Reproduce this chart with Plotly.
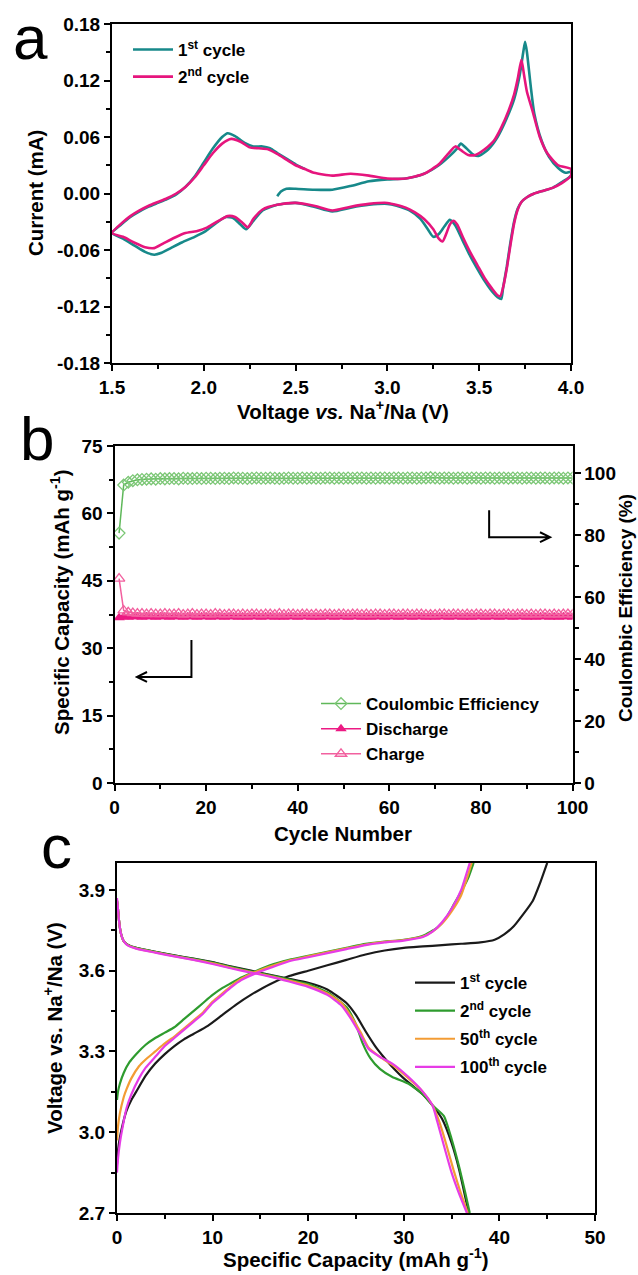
import plotly.graph_objects as go

W, H = 638, 1275
FONT = "Liberation Sans, Arial, Helvetica, sans-serif"


def px(x):
    return x / W


def py(y):
    return 1 - y / H


# ---------------- panel a : cyclic voltammetry ----------------
CV1_OX_START_V = [2.40, 2.42, 2.45, 2.50, 2.60, 2.70, 2.80, 2.90, 3.00, 3.10,
                  3.20, 3.28, 3.34, 3.38, 3.40, 3.43, 3.47, 3.50, 3.55, 3.60,
                  3.65, 3.69, 3.72, 3.74, 3.75, 3.76, 3.78, 3.80, 3.84, 3.88,
                  3.93, 3.97, 4.00]
CV1_OX_START_I = [-0.003, 0.002, 0.005, 0.005, 0.004, 0.004, 0.008, 0.013, 0.015, 0.016,
                  0.021, 0.030, 0.040, 0.048, 0.053, 0.048, 0.041, 0.040, 0.047, 0.060,
                  0.080, 0.100, 0.125, 0.150, 0.161, 0.150, 0.115, 0.085, 0.056, 0.039,
                  0.027, 0.022, 0.023]
CV1_RED_V = [4.00, 3.95, 3.90, 3.85, 3.80, 3.76, 3.73, 3.71, 3.69, 3.67, 3.65,
             3.63, 3.62, 3.60, 3.57, 3.53, 3.49, 3.45, 3.41, 3.37, 3.34,
             3.31, 3.28, 3.25, 3.22, 3.18, 3.12, 3.05, 3.00, 2.90, 2.80,
             2.70, 2.60, 2.50, 2.40, 2.32, 2.27, 2.23, 2.20, 2.16, 2.12,
             2.07, 2.01, 1.95, 1.88, 1.82, 1.77, 1.73, 1.68, 1.62, 1.56,
             1.50]
CV1_RED_I = [0.019, 0.012, 0.006, 0.003, 0.000, -0.004, -0.009, -0.016, -0.030, -0.052, -0.078,
             -0.100, -0.112, -0.110, -0.104, -0.093, -0.080, -0.066, -0.050, -0.034, -0.028,
             -0.035, -0.043, -0.046, -0.038, -0.027, -0.018, -0.013, -0.011, -0.012, -0.015,
             -0.019, -0.014, -0.010, -0.012, -0.018, -0.029, -0.038, -0.033, -0.026, -0.025,
             -0.031, -0.040, -0.046, -0.052, -0.058, -0.063, -0.065, -0.062, -0.055, -0.048,
             -0.042]
CV1_OX_END_V = [1.55, 1.60, 1.65, 1.70, 1.75, 1.80, 1.85, 1.90, 1.95, 2.00, 2.05,
                2.10, 2.13, 2.17, 2.22, 2.27, 2.32, 2.36, 2.40, 2.45, 2.50, 2.55]
CV1_OX_END_I = [-0.033, -0.025, -0.019, -0.014, -0.010, -0.006, -0.001, 0.007, 0.018, 0.033, 0.048,
                0.060, 0.064, 0.061, 0.054, 0.050, 0.050, 0.048, 0.043, 0.037, 0.031, 0.026]

CV2_OX_V = [1.50, 1.55, 1.60, 1.65, 1.70, 1.75, 1.80, 1.85, 1.90, 1.95,
            2.00, 2.05, 2.10, 2.15, 2.20, 2.25, 2.30, 2.35, 2.40, 2.45,
            2.50, 2.55, 2.60, 2.70, 2.80, 2.90, 3.00, 3.10, 3.20, 3.28,
            3.33, 3.37, 3.40, 3.44, 3.48, 3.53, 3.58, 3.62, 3.66, 3.69,
            3.71, 3.73, 3.745, 3.76, 3.79, 3.83, 3.87, 3.93, 4.00]
CV2_OX_I = [-0.042, -0.032, -0.024, -0.018, -0.013, -0.009, -0.005, 0.000, 0.007, 0.017,
            0.030, 0.043, 0.053, 0.058, 0.055, 0.049, 0.048, 0.047, 0.042, 0.036,
            0.030, 0.026, 0.022, 0.019, 0.021, 0.019, 0.016, 0.016, 0.021, 0.031,
            0.042, 0.050, 0.046, 0.041, 0.041, 0.047, 0.056, 0.070, 0.088, 0.105,
            0.122, 0.142, 0.125, 0.108, 0.088, 0.060, 0.043, 0.030, 0.026]
CV2_RED_V = [4.00, 3.95, 3.90, 3.85, 3.80, 3.76, 3.73, 3.71, 3.69, 3.67, 3.65,
             3.63, 3.615, 3.60, 3.57, 3.53, 3.49, 3.45, 3.41, 3.38, 3.36,
             3.34, 3.32, 3.30, 3.28, 3.25, 3.20, 3.15, 3.10, 3.00, 2.90,
             2.80, 2.70, 2.60, 2.50, 2.40, 2.32, 2.27, 2.24, 2.21, 2.17,
             2.13, 2.08, 2.02, 1.96, 1.90, 1.84, 1.78, 1.73, 1.68, 1.62,
             1.56, 1.50]
CV2_RED_I = [0.019, 0.011, 0.006, 0.003, 0.000, -0.004, -0.009, -0.017, -0.032, -0.055, -0.080,
             -0.100, -0.109, -0.108, -0.101, -0.090, -0.076, -0.062, -0.046, -0.033, -0.029,
             -0.033, -0.043, -0.051, -0.048, -0.038, -0.027, -0.020, -0.015, -0.010, -0.011,
             -0.014, -0.018, -0.013, -0.010, -0.012, -0.017, -0.027, -0.036, -0.031, -0.025,
             -0.024, -0.029, -0.036, -0.040, -0.042, -0.047, -0.053, -0.058, -0.057, -0.052,
             -0.046, -0.042]

A_YTICKS = [-0.18, -0.12, -0.06, 0.00, 0.06, 0.12, 0.18]
A_YTICKTEXT = ["-0.18", "-0.12", "-0.06", "0.00", "0.06", "0.12", "0.18"]

# ---------------- panel b : cycling ----------------
CYCLES = list(range(1, 101))
CE = [80.6, 96.1, 97.0, 97.5, 97.8, 97.9, 98.0, 98.1, 98.0, 98.2,
      98.1, 98.2, 98.2, 98.1, 98.3, 98.2, 98.2, 98.3, 98.2, 98.3,
      98.3, 98.2, 98.3, 98.3, 98.2, 98.4, 98.3, 98.3, 98.2, 98.3,
      98.4, 98.3, 98.3, 98.4, 98.3, 98.2, 98.3, 98.4, 98.3, 98.3,
      98.4, 98.3, 98.4, 98.3, 98.3, 98.4, 98.4, 98.3, 98.4, 98.3,
      98.4, 98.3, 98.4, 98.4, 98.3, 98.4, 98.3, 98.4, 98.4, 98.3,
      98.4, 98.4, 98.3, 98.4, 98.4, 98.3, 98.4, 98.4, 98.5, 98.4,
      98.3, 98.4, 98.4, 98.3, 98.4, 98.4, 98.3, 98.4, 98.4, 98.3,
      98.4, 98.4, 98.3, 98.4, 98.4, 98.3, 98.4, 98.4, 98.3, 98.4,
      98.4, 98.3, 98.4, 98.4, 98.3, 98.4, 98.4, 98.3, 98.4, 98.4]
DISCHARGE = [36.8, 37.0, 36.9, 37.0, 37.0, 36.9, 37.0, 37.0, 36.9, 37.0,
             37.0, 36.9, 37.0, 37.0, 36.9, 37.0, 37.0, 36.9, 37.0, 37.0,
             36.9, 37.0, 37.0, 36.9, 37.0, 37.0, 36.9, 37.0, 36.9, 37.0,
             37.0, 36.9, 37.0, 37.0, 36.9, 37.0, 36.9, 37.0, 37.0, 36.9,
             37.0, 37.0, 36.9, 37.0, 36.9, 37.0, 37.0, 36.9, 37.0, 37.0,
             36.9, 37.0, 37.0, 36.9, 37.0, 36.9, 37.0, 37.0, 36.9, 37.0,
             37.0, 36.9, 37.0, 37.0, 36.9, 37.0, 37.0, 36.9, 37.0, 36.9,
             37.0, 37.0, 36.9, 37.0, 37.0, 36.9, 37.0, 36.9, 37.0, 37.0,
             36.9, 37.0, 37.0, 36.9, 37.0, 37.0, 36.9, 37.0, 37.0, 36.9,
             37.0, 36.9, 37.0, 37.0, 36.9, 37.0, 36.9, 37.0, 37.0, 36.9]
CHARGE = [45.5, 38.4, 38.0, 37.8, 37.7, 37.7, 37.6, 37.7, 37.6, 37.6,
          37.7, 37.6, 37.6, 37.7, 37.5, 37.6, 37.7, 37.5, 37.6, 37.6,
          37.5, 37.7, 37.6, 37.5, 37.6, 37.6, 37.5, 37.6, 37.5, 37.6,
          37.6, 37.5, 37.6, 37.6, 37.5, 37.7, 37.5, 37.6, 37.6, 37.5,
          37.6, 37.6, 37.5, 37.6, 37.5, 37.6, 37.6, 37.5, 37.6, 37.6,
          37.5, 37.6, 37.6, 37.5, 37.6, 37.5, 37.6, 37.6, 37.5, 37.6,
          37.6, 37.5, 37.6, 37.6, 37.5, 37.6, 37.6, 37.5, 37.5, 37.5,
          37.6, 37.6, 37.5, 37.6, 37.6, 37.5, 37.6, 37.5, 37.6, 37.6,
          37.5, 37.6, 37.6, 37.5, 37.6, 37.6, 37.5, 37.6, 37.6, 37.5,
          37.6, 37.5, 37.6, 37.6, 37.5, 37.6, 37.5, 37.6, 37.6, 37.5]

# ---------------- panel c : charge/discharge profiles ----------------
C1_CH_CAP = [0, 0.1, 0.3, 0.6, 1.0, 1.5, 2.0, 3.0, 4.0, 5.0, 6.0, 7.0, 8.0, 9.5, 11.0, 12.5,
             14.0, 16.0, 18.0, 20.0, 22.0, 24.0, 26.0, 28.0, 30.0, 32.0, 34.0, 36.0, 38.0,
             39.5, 40.5, 41.5, 42.5, 43.5, 44.3, 45.0]
C1_CH_V = [2.88, 2.93, 2.98, 3.03, 3.08, 3.12, 3.15, 3.21, 3.255, 3.29, 3.32, 3.345, 3.365, 3.395,
           3.435, 3.475, 3.51, 3.55, 3.58, 3.60, 3.62, 3.64, 3.66, 3.675, 3.685, 3.69, 3.695,
           3.70, 3.705, 3.715, 3.735, 3.765, 3.81, 3.86, 3.93, 4.00]
C1_DIS_CAP = [0, 0.1, 0.2, 0.4, 0.7, 1.2, 2.0, 4.0, 6.0, 8.0, 10.0, 12.0, 14.0, 16.0, 18.0, 20.0,
              22.0, 24.0, 25.0, 26.0, 27.0, 28.0, 29.0, 30.0, 31.0, 32.0, 33.0, 34.0, 35.0, 35.8,
              36.3, 36.8]
C1_DIS_V = [3.86, 3.83, 3.79, 3.74, 3.71, 3.695, 3.685, 3.67, 3.657, 3.645, 3.632, 3.615, 3.60,
            3.585, 3.57, 3.555, 3.53, 3.48, 3.435, 3.375, 3.32, 3.275, 3.235, 3.20, 3.17, 3.14,
            3.10, 3.05, 2.96, 2.86, 2.78, 2.70]

C2_CH_CAP = [0, 0.1, 0.3, 0.7, 1.3, 2.0, 3.0, 4.0, 5.0, 6.0, 7.0, 8.0, 9.0, 10.0, 11.0, 12.0, 13.0,
             14.3, 16.0, 18.0, 20.0, 22.0, 24.0, 26.0, 28.0, 30.0, 32.0, 33.5, 34.5, 35.3, 36.1,
             36.8, 37.3]
C2_CH_V = [3.12, 3.15, 3.18, 3.22, 3.26, 3.29, 3.325, 3.35, 3.37, 3.39, 3.42, 3.45, 3.48, 3.51,
           3.535, 3.555, 3.575, 3.595, 3.62, 3.64, 3.655, 3.67, 3.685, 3.70, 3.708, 3.715, 3.73,
           3.76, 3.80, 3.85, 3.90, 3.95, 4.00]
C2_DIS_CAP = [0, 0.1, 0.2, 0.4, 0.7, 1.2, 2.0, 4.0, 6.0, 8.0, 10.0, 12.0, 14.0, 16.0, 18.0, 20.0,
              22.0, 24.0, 25.0, 25.7, 26.5, 27.5, 28.8, 30.5, 32.0, 33.0, 34.2, 35.0, 35.8, 36.4,
              36.9]
C2_DIS_V = [3.86, 3.83, 3.79, 3.74, 3.71, 3.695, 3.685, 3.67, 3.656, 3.644, 3.63, 3.613, 3.598,
            3.583, 3.567, 3.55, 3.52, 3.465, 3.40, 3.33, 3.275, 3.235, 3.205, 3.18, 3.14, 3.10,
            3.06, 2.975, 2.87, 2.78, 2.70]

C50_CH_CAP = [0, 0.1, 0.3, 0.7, 1.0, 1.5, 2.3, 3.0, 4.0, 5.0, 6.0, 7.0, 8.0, 9.0, 10.0, 11.0,
              12.0, 13.0, 14.5, 16.0, 18.0, 20.0, 22.0, 24.0, 26.0, 28.0, 30.0, 32.0, 33.0, 34.0,
              35.0, 36.0, 37.1]
C50_CH_V = [2.97, 3.02, 3.07, 3.13, 3.16, 3.20, 3.245, 3.27, 3.30, 3.33, 3.355, 3.385, 3.415,
            3.445, 3.485, 3.515, 3.545, 3.57, 3.595, 3.615, 3.638, 3.653, 3.668, 3.683, 3.697,
            3.707, 3.714, 3.727, 3.745, 3.775, 3.82, 3.88, 4.00]
C50_DIS_CAP = [0, 0.1, 0.2, 0.4, 0.7, 1.2, 2.0, 4.0, 6.0, 8.0, 10.0, 12.0, 14.0, 16.0, 18.0, 20.0,
               22.0, 23.5, 24.5, 25.5, 26.3, 27.5, 28.8, 30.5, 32.0, 33.0, 33.7, 34.4, 35.2, 36.0,
               36.7]
C50_DIS_V = [3.86, 3.83, 3.79, 3.74, 3.71, 3.693, 3.683, 3.668, 3.654, 3.641, 3.627, 3.61, 3.595,
             3.58, 3.563, 3.545, 3.515, 3.48, 3.43, 3.37, 3.315, 3.28, 3.25, 3.20, 3.15, 3.10,
             3.04, 2.96, 2.86, 2.77, 2.70]

C100_CH_CAP = [0, 0.1, 0.3, 0.7, 1.0, 1.5, 2.3, 3.0, 4.0, 5.0, 6.0, 7.0, 8.0, 9.0, 10.0, 11.0,
               12.0, 13.0, 14.5, 16.0, 18.0, 20.0, 22.0, 24.0, 26.0, 28.0, 30.0, 32.0, 33.0, 34.0,
               35.0, 36.0, 36.9]
C100_CH_V = [2.85, 2.90, 2.96, 3.04, 3.09, 3.14, 3.20, 3.24, 3.28, 3.32, 3.35, 3.38, 3.41, 3.44,
             3.48, 3.51, 3.54, 3.565, 3.59, 3.61, 3.635, 3.65, 3.665, 3.68, 3.695, 3.705, 3.712,
             3.725, 3.745, 3.78, 3.83, 3.90, 4.00]
C100_DIS_CAP = [0, 0.1, 0.2, 0.4, 0.7, 1.2, 2.0, 4.0, 6.0, 8.0, 10.0, 12.0, 14.0, 16.0, 18.0, 20.0,
                22.0, 23.5, 24.5, 25.5, 26.3, 27.5, 28.8, 30.5, 32.0, 33.0, 33.5, 34.2, 35.0, 35.8,
                36.6]
C100_DIS_V = [3.87, 3.83, 3.79, 3.74, 3.71, 3.692, 3.682, 3.667, 3.653, 3.64, 3.625, 3.608, 3.593,
              3.578, 3.56, 3.54, 3.51, 3.47, 3.42, 3.36, 3.31, 3.28, 3.255, 3.205, 3.15, 3.10,
              3.04, 2.95, 2.85, 2.77, 2.70]

C_LABELS = ["1<sup>st</sup> cycle", "2<sup>nd</sup> cycle", "50<sup>th</sup> cycle", "100<sup>th</sup> cycle"]
C_COLORS = ["#1a1a1a", "#2e9b2e", "#f39c34", "#e63ce6"]

# ---------------- figure ----------------
fig = go.Figure()

TEAL = "#17898a"
PINK = "#e6157d"

fig.add_trace(go.Scatter(
    x=CV1_OX_START_V + CV1_RED_V + CV1_OX_END_V,
    y=CV1_OX_START_I + CV1_RED_I + CV1_OX_END_I,
    mode="lines", name="1<sup>st</sup> cycle", legendgroup="a1",
    line=dict(color=TEAL, width=2.6, shape="spline", smoothing=0.6),
    xaxis="x", yaxis="y", legend="legend"))
fig.add_trace(go.Scatter(
    x=CV2_OX_V + CV2_RED_V, y=CV2_OX_I + CV2_RED_I,
    mode="lines", name="2<sup>nd</sup> cycle", legendgroup="a2",
    line=dict(color=PINK, width=2.6, shape="spline", smoothing=0.6),
    xaxis="x", yaxis="y", legend="legend"))

# panel b
fig.add_trace(go.Scatter(
    x=CYCLES, y=CE, mode="lines+markers", name="Coulombic Efficiency", legendgroup="b1",
    line=dict(color="#5fb85a", width=1.5),
    marker=dict(symbol="diamond-open", size=9, color="#7cc776", line=dict(width=1.3)),
    xaxis="x2", yaxis="y3", legend="legend2"))
fig.add_trace(go.Scatter(
    x=CYCLES, y=DISCHARGE, mode="lines+markers", name="Discharge", legendgroup="b2",
    line=dict(color="#ec1a83", width=1.5),
    marker=dict(symbol="triangle-up", size=10, color="#ec1a83"),
    xaxis="x2", yaxis="y2", legend="legend2"))
fig.add_trace(go.Scatter(
    x=CYCLES, y=CHARGE, mode="lines+markers", name="Charge", legendgroup="b3",
    line=dict(color="#f2609f", width=1.5),
    marker=dict(symbol="triangle-up-open", size=10, color="#f2609f", line=dict(width=1.3)),
    xaxis="x2", yaxis="y2", legend="legend2"))

# panel c
C_DATA = [(C1_CH_CAP, C1_CH_V, C1_DIS_CAP, C1_DIS_V),
          (C2_CH_CAP, C2_CH_V, C2_DIS_CAP, C2_DIS_V),
          (C50_CH_CAP, C50_CH_V, C50_DIS_CAP, C50_DIS_V),
          (C100_CH_CAP, C100_CH_V, C100_DIS_CAP, C100_DIS_V)]
for i, ((chc, chv, dc, dv), lab, col) in enumerate(zip(C_DATA, C_LABELS, C_COLORS)):
    fig.add_trace(go.Scatter(
        x=chc + [None] + dc, y=chv + [None] + dv, mode="lines", name=lab,
        legendgroup="c%d" % i,
        line=dict(color=col, width=2.2, shape="spline", smoothing=0.5),
        connectgaps=False, xaxis="x3", yaxis="y4", legend="legend3"))

TICKFONT = dict(family=FONT, size=19, color="black", weight="bold")


def ax(**kw):
    d = dict(showline=True, linecolor="black", linewidth=2, mirror=True,
             ticks="outside", ticklen=6, tickwidth=2, tickcolor="black",
             showgrid=False, zeroline=False, tickfont=TICKFONT, fixedrange=True,
             automargin=False)
    d.update(kw)
    return d


def minor(dt, t0=0):
    return dict(ticks="outside", ticklen=4, tickwidth=2, tickcolor="black",
                tickmode="linear", tick0=t0, dtick=dt, showgrid=False)


LEGFONT = dict(family=FONT, size=17, color="black", weight="bold")


def leg(x, y, gap):
    return dict(x=px(x), y=py(y), xanchor="left", yanchor="top", font=LEGFONT,
                bgcolor="rgba(0,0,0,0)", borderwidth=0, itemwidth=40,
                tracegroupgap=gap, itemclick=False, itemdoubleclick=False)


TITLEFONT = dict(family=FONT, size=20.5, color="black", weight="bold")
ann = []


def title(text, x, y, angle=0, size=20.5):
    ann.append(dict(text=text, x=px(x), y=py(y), xref="paper", yref="paper",
                    showarrow=False, textangle=angle, font=dict(TITLEFONT, size=size),
                    xanchor="center", yanchor="middle"))


title("Voltage <i>vs.</i> Na<sup>+</sup>/Na (V)", 343, 410)
title("Current (mA)", 35, 193, -90)
title("Cycle Number", 343, 833)
title("Specific Capacity (mAh g<sup>-1</sup>)", 60, 602, -90)
title("Coulombic Efficiency (%)", 626, 608, -90, 19)
title("Specific Capacity (mAh g<sup>-1</sup>)", 356, 1258)
title("Voltage vs. Na<sup>+</sup>/Na (V)", 53, 1028, -90)

for letter, x, y in [("a", 30, 38), ("b", 37, 438), ("c", 57, 846)]:
    ann.append(dict(text=letter, x=px(x), y=py(y), xref="paper", yref="paper",
                    showarrow=False, font=dict(family=FONT, size=62, color="black"),
                    xanchor="center", yanchor="middle"))

# arrows in panel b (data coordinates of x2 / y2)
ARW = dict(type="path", xref="x2", yref="y2", line=dict(color="black", width=2))
shapes = [
    dict(ARW, path="M 81.8 60.7 L 81.8 54.7 L 95.1 54.7 M 92.9 55.8 L 95.1 54.7 L 92.9 53.6"),
    dict(ARW, path="M 16.8 31.8 L 16.8 23.6 L 4.9 23.6 M 7.1 24.7 L 4.9 23.6 L 7.1 22.5"),
]

fig.update_layout(
    width=W, height=H, autosize=False,
    margin=dict(l=0, r=0, t=0, b=0),
    paper_bgcolor="white", plot_bgcolor="white",
    font=dict(family=FONT, color="black"),
    xaxis=ax(domain=[px(112), px(571)], anchor="y", range=[1.5, 4.0], tick0=1.5, dtick=0.5,
             tickformat=".1f", minor=minor(0.25, 1.5)),
    yaxis=ax(domain=[py(363), py(24)], anchor="x", range=[-0.18, 0.18],
             tickmode="array", tickvals=A_YTICKS, ticktext=A_YTICKTEXT,
             minor=minor(0.03, -0.18)),
    xaxis2=ax(domain=[px(114.5), px(572.5)], anchor="y2", range=[0, 100], tick0=0, dtick=20,
              minor=minor(10)),
    yaxis2=ax(domain=[py(783), py(446)], anchor="x2", range=[0, 75], tick0=0, dtick=15,
              minor=minor(7.5)),
    yaxis3=ax(overlaying="y2", side="right", anchor="x2", range=[0, 108.7], tick0=0, dtick=20,
              minor=minor(10), mirror=False),
    xaxis3=ax(domain=[px(117), px(595)], anchor="y4", range=[0, 50], tick0=0, dtick=10,
              minor=minor(5)),
    yaxis4=ax(domain=[py(1213), py(863)], anchor="x3", range=[2.7, 4.0], tick0=2.7, dtick=0.3,
              tickformat=".1f", minor=minor(0.15, 2.7)),
    legend=leg(128, 32, 2),
    legend2=leg(316, 686, 0),
    legend3=leg(410, 965, 3),
    annotations=ann,
    shapes=shapes,
    showlegend=True,
)

# remove the browser's default 8px page margin so the figure sits at the window origin
fig.write_html("out.html",
               config={"displayModeBar": False, "staticPlot": True},
               post_script="document.body.style.margin='0';document.body.style.overflow='hidden';")
